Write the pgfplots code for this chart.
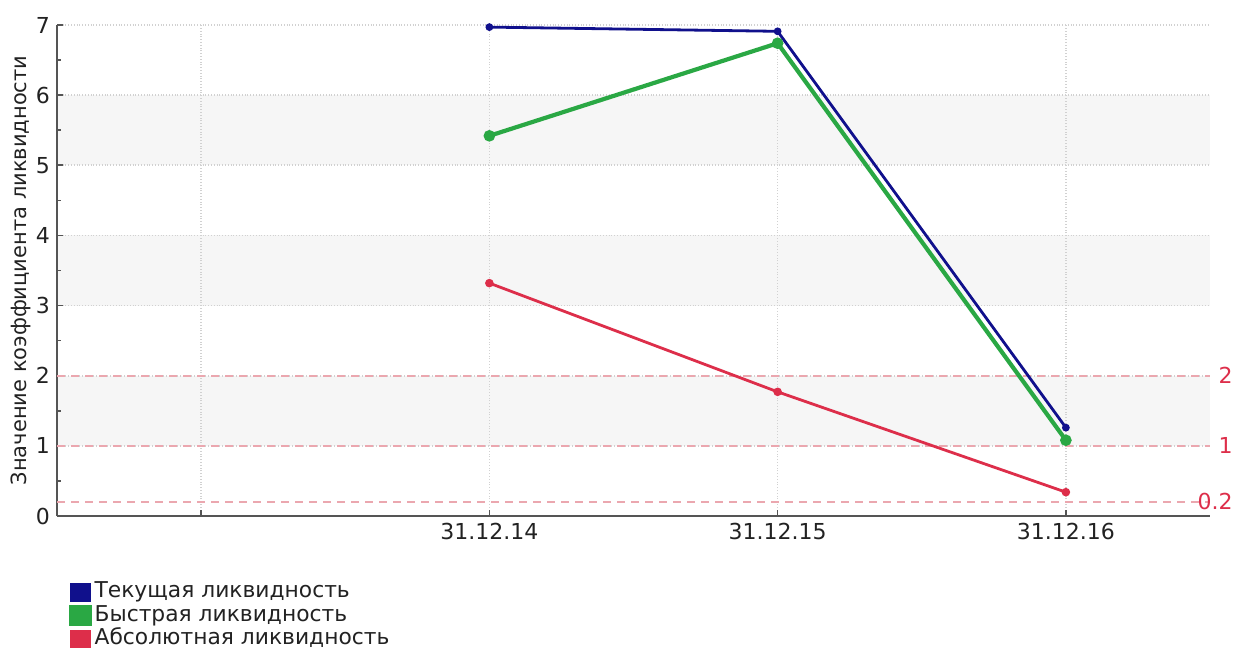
\documentclass[border=0pt]{standalone}
\usepackage{fontspec}
\setmainfont{DejaVu Sans}
\usepackage{pgfplots}
\pgfplotsset{compat=1.18}

\definecolor{curblue}{HTML}{10108C}
\definecolor{quickgreen}{HTML}{2AA844}
\definecolor{absred}{HTML}{DD2E4A}
\definecolor{refred}{HTML}{EBA7AF}
\definecolor{band}{HTML}{F6F6F6}
\definecolor{axisgray}{HTML}{555555}
\definecolor{txt}{HTML}{222222}

\begin{document}
\begin{tikzpicture}
\begin{axis}[
  set layers, clip=false,
  at={(0,0)}, anchor=south west,
  scale only axis, width=576.5pt, height=245.5pt,
  xmin=-1.5, xmax=2.5, ymin=0, ymax=7,
  axis x line*=bottom, axis y line*=left,
  axis line style={axisgray, line width=0.9pt},
  xtick={-1,0,1,2},
  xticklabels={,31.12.14,31.12.15,31.12.16},
  ytick={0,1,2,3,4,5,6,7},
  minor y tick num=1,
  major tick length=3pt, minor tick length=2pt,
  tick style={axisgray, line width=0.8pt},
  grid=major,
  major grid style={densely dotted, black!18, line width=0.8pt},
  /pgf/number format/assume math mode=true,
  ticklabel style={text=txt, font=\fontsize{11}{13}\selectfont},
  ylabel={Значение коэффициента ликвидности},
  ylabel style={at={(axis description cs:0,0.5)}, anchor=center,
    yshift=18pt, text=txt, font=\fontsize{10.5}{12}\selectfont},
  legend style={at={(axis description cs:0,0)}, anchor=north west,
    xshift=6pt, yshift=-32pt, draw=none, fill=none,
    inner sep=0pt, row sep=0pt,
    font=\fontsize{10.9}{12}\selectfont, text=txt,
    nodes={inner xsep=1.5pt, inner ysep=0.6pt, text height=8pt, text depth=2.5pt}},
  legend cell align=left,
  legend image code/.code={\fill[#1] (0pt,-4pt) rectangle (9pt,4pt);},
]
% light bands behind the grid
\pgfplotsextra{%
  \begin{pgfonlayer}{axis background}
    \fill[band] (axis cs:-1.5,1) rectangle (axis cs:2.5,2);
    \fill[band] (axis cs:-1.5,3) rectangle (axis cs:2.5,4);
    \fill[band] (axis cs:-1.5,5) rectangle (axis cs:2.5,6);
  \end{pgfonlayer}}

% normative levels
\addplot[forget plot, refred, line width=0.9pt, dash pattern=on 4pt off 3pt]
  coordinates {(-1.5,2) (2.5,2)};
\addplot[forget plot, refred, line width=0.9pt, dash pattern=on 4pt off 3pt]
  coordinates {(-1.5,1) (2.5,1)};
\addplot[forget plot, refred, line width=0.9pt, dash pattern=on 4pt off 3pt]
  coordinates {(-1.5,0.2) (2.5,0.2)};

% ratios
\addplot[curblue, line width=1.4pt, mark=*, mark size=1.2pt]
  coordinates {(0,6.97) (1,6.91) (2,1.26)};
\addlegendentry{Текущая ликвидность}
\addplot[quickgreen, line width=2.1pt, mark=*, mark size=1.8pt]
  coordinates {(0,5.42) (1,6.74) (2,1.08)};
\addlegendentry{Быстрая ликвидность}
\addplot[absred, line width=1.4pt, mark=*, mark size=1.4pt]
  coordinates {(0,3.32) (1,1.77) (2,0.34)};
\addlegendentry{Абсолютная ликвидность}

% labels of the normative levels
\node[anchor=east, inner sep=0pt, text=absred, xshift=11.5pt, font=\fontsize{11}{13}\selectfont]
  at (axis cs:2.5,2) {2};
\node[anchor=east, inner sep=0pt, text=absred, xshift=11.5pt, font=\fontsize{11}{13}\selectfont]
  at (axis cs:2.5,1) {1};
\node[anchor=east, inner sep=0pt, text=absred, xshift=11.5pt, font=\fontsize{11}{13}\selectfont]
  at (axis cs:2.5,0.2) {0.2};
\end{axis}
% fixed page frame around the axis
\pgfresetboundingbox
\useasboundingbox (-28.5pt,-66pt) rectangle (589pt,258pt);
\end{tikzpicture}
\end{document}
